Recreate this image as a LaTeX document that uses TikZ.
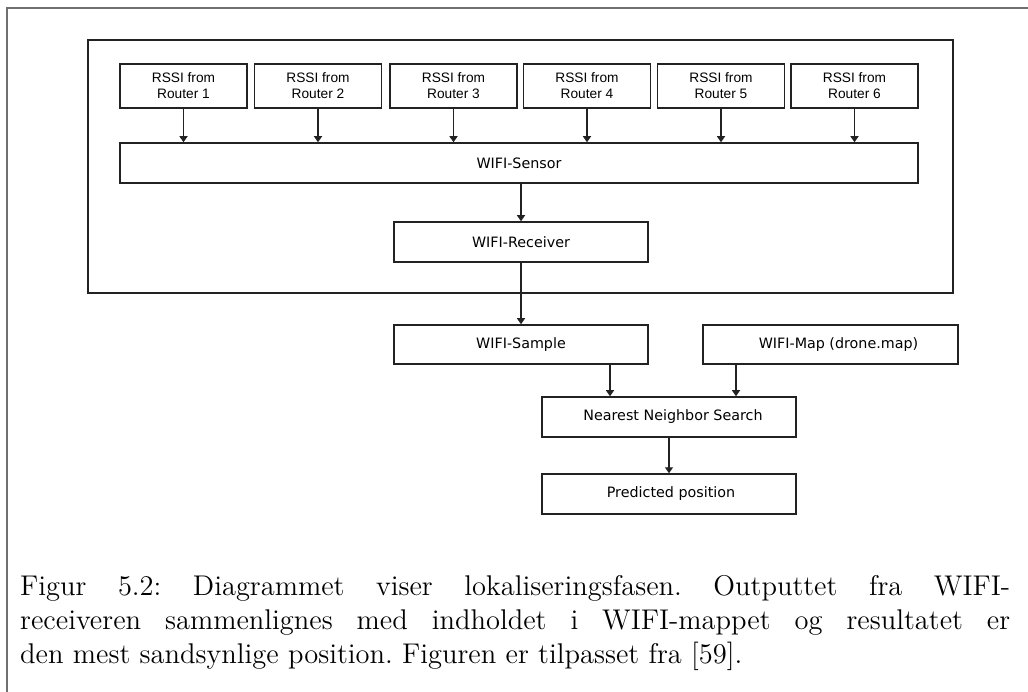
\documentclass[tikz,border=0pt]{standalone}
\usepackage{fontspec}
\usetikzlibrary{arrows.meta}
\newfontfamily\routerfont{Liberation Sans}
\newfontfamily\boxfont{DejaVu Sans}
\newfontfamily\capfont{lmroman12-regular}[Extension=.otf]
\definecolor{ink}{HTML}{222222}
\definecolor{framegray}{HTML}{707070}
\begin{document}
\begin{tikzpicture}[x=1pt, y=-1pt,
  box/.style={draw=ink, line width=1.5pt, rectangle, inner sep=0pt, minimum height=40pt},
  routerbox/.style={box, minimum width=127pt, minimum height=44pt, align=center,
    font=\routerfont\fontsize{13.7}{16}\selectfont},
  stagebox/.style={box, minimum width=254pt, font=\boxfont\fontsize{14.3}{17}\selectfont},
  arr/.style={draw=ink, line width=1.3pt, -{Triangle[width=8pt,length=6pt]}},
  capline/.style={anchor=base west, inner sep=0pt, font=\capfont\fontsize{28.5}{34}\selectfont\frenchspacing}]
\useasboundingbox (0,0) rectangle (1028,692);
% page frame
\draw[framegray, line width=2pt] (7,692) -- (7,8) -- (1028,8);
% sensor unit container
\node[draw=ink, line width=1.5pt, minimum width=865pt, minimum height=253pt, inner sep=0pt] (unit) at (520.5,166.5) {};
% router inputs
\node[routerbox] (r1) at (183.5,86) {RSSI from\\Router 1};
\node[routerbox] (r2) at (318,86) {RSSI from\\Router 2};
\node[routerbox] (r3) at (453.5,86) {RSSI from\\Router 3};
\node[routerbox] (r4) at (587,86) {RSSI from\\Router 4};
\node[routerbox] (r5) at (721,86) {RSSI from\\Router 5};
\node[routerbox] (r6) at (854.5,86) {RSSI from\\Router 6};
% processing chain
\node[stagebox, minimum width=798pt] (sensor) at (519,163) {WIFI-Sensor};
\node[stagebox] (recv) at (521,242) {WIFI-Receiver};
\node[stagebox, minimum height=39pt] (sample) at (521,344.5) {WIFI-Sample};
\node[stagebox, minimum width=255pt, minimum height=39pt] (map) at (830.5,344.5) {\hspace*{16pt}WIFI-Map (drone.map)};
\node[stagebox] (nns) at (669,417) {\hspace*{8pt}Nearest Neighbor Search};
\node[stagebox] (pred) at (669,494) {\hspace*{4pt}Predicted position};
% connectors
\foreach \r in {r1,r2,r3,r4,r5,r6}
  \draw[arr] (\r.south) -- (\r.south |- sensor.north);
\draw[arr] (recv.north |- sensor.south) -- (recv.north);
\draw[arr] (recv.south) -- (sample.north);
\draw[arr] ([xshift=89pt]sample.south) -- ([xshift=89pt]sample.south |- nns.north);
\draw[arr] ([xshift=-94.5pt]map.south) -- ([xshift=-94.5pt]map.south |- nns.north);
\draw[arr] (nns.south) -- (pred.north);
% caption
\node[capline] (cap1) at (20,595) {\makebox[990pt][s]{Figur 5.2: Diagrammet viser lokaliseringsfasen. Outputtet fra WIFI-}};
\node[capline] (cap2) at (20,629) {\makebox[990pt][s]{receiveren sammenlignes med indholdet i WIFI-mappet og resultatet er}};
\node[capline] (cap3) at (20,663) {den mest sandsynlige position. Figuren er tilpasset fra [59].};
\end{tikzpicture}
\end{document}
